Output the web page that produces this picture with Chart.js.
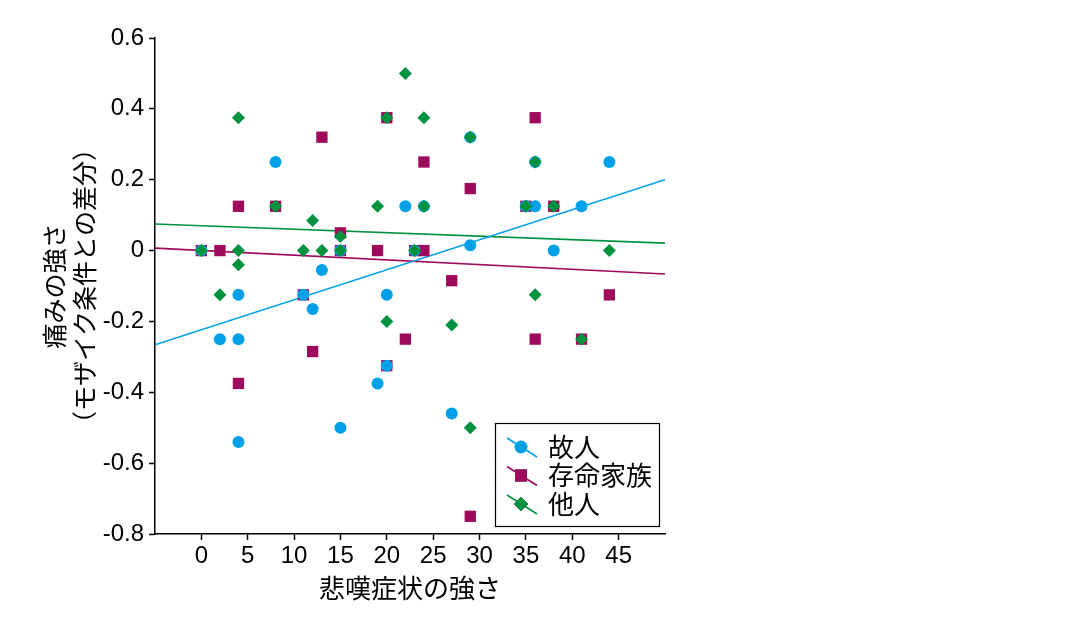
<!DOCTYPE html>
<html>
<head>
<meta charset="utf-8">
<script src="https://cdn.jsdelivr.net/npm/chart.js@4/dist/chart.umd.min.js"></script>
<style>
  html, body { margin: 0; padding: 0; background: #fff; }
  #chart { display: block; }
</style>
</head>
<body>
<canvas id="chart" width="1070" height="626"></canvas>
<script>
// 悲嘆症状の強さ (x) と 痛みの強さの差分 (y)
const groupLabels = ['故人', '存命家族', '他人'];
const xTicks = [0, 5, 10, 15, 20, 25, 30, 35, 40, 45];
const yTicks = [-0.8, -0.6, -0.4, -0.2, 0, 0.2, 0.4, 0.6];

const deceasedX = [0, 2, 4, 4, 4, 8, 11, 12, 13, 15, 15, 19, 20, 20, 22, 23, 24, 27, 29, 29, 35, 36, 36, 38, 41, 44];
const deceasedY = [0, -0.25, -0.125, -0.25, -0.54, 0.25, -0.125, -0.165, -0.055, 0, -0.5, -0.375, -0.125, -0.325, 0.125, 0, 0.125, -0.46, 0.32, 0.015, 0.125, 0.125, 0.25, 0, 0.125, 0.25];

const familyX = [0, 2, 4, 4, 8, 11, 12, 13, 15, 15, 19, 20, 20, 22, 23, 24, 24, 27, 29, 29, 35, 36, 36, 38, 41, 44];
const familyY = [0, 0, 0.125, -0.375, 0.125, -0.125, -0.285, 0.32, 0.05, 0, 0, 0.375, -0.325, -0.25, 0, 0, 0.25, -0.085, 0.175, -0.75, 0.125, 0.375, -0.25, 0.125, -0.25, -0.125];

const strangerX = [0, 2, 4, 4, 4, 8, 11, 12, 13, 15, 15, 19, 20, 20, 22, 23, 24, 24, 27, 29, 29, 35, 36, 36, 38, 41, 44];
const strangerY = [0, -0.125, 0.375, 0, -0.04, 0.125, 0, 0.085, 0, 0.04, 0, 0.125, 0.375, -0.2, 0.5, 0, 0.375, 0.125, -0.21, 0.32, -0.5, 0.125, 0.25, -0.125, 0.125, -0.25, 0];

// 回帰直線 (両端)
const fitX = [-5, 50];
const deceasedFit = [-0.266, 0.200];
const familyFit = [0.007, -0.066];
const strangerFit = [0.075, 0.021];

const colors = ['#00a0e9', '#9e0a5c', '#00923f'];
const styles = ['circle', 'rect', 'rectRot'];
const radii = [6, 8, 6.5];

const toPts = (xs, ys) => xs.map((x, i) => ({ x: x, y: ys[i] }));

const pointSets = [toPts(deceasedX, deceasedY), toPts(familyX, familyY), toPts(strangerX, strangerY)];
const fitSets = [deceasedFit, familyFit, strangerFit];
const drawOrder = [1, 2, 0];

const datasets = [];
groupLabels.forEach((label, i) => {
  datasets.push({
    label: label,
    data: pointSets[i],
    pointStyle: styles[i],
    pointRadius: radii[i],
    pointHoverRadius: radii[i],
    backgroundColor: colors[i],
    borderColor: colors[i],
    pointBorderWidth: 0,
    order: drawOrder[i]
  });
});
groupLabels.forEach((label, i) => {
  datasets.push({
    label: label + ' fit',
    data: toPts(fitX, fitSets[i]),
    showLine: true,
    pointRadius: 0,
    borderColor: colors[i],
    borderWidth: 1.6,
    order: 10 + i
  });
});

const FONT = '"Liberation Sans", Arial, "Noto Sans CJK JP", sans-serif';
const CJK = '"Noto Sans CJK JP", sans-serif';

// 凡例 (グラフ内右下)
const boxLegend = {
  id: 'boxLegend',
  afterDraw(chart) {
    const ctx = chart.ctx;
    const a = chart.chartArea;
    const x0 = a.left + 340, y0 = a.top + 385, w = 164, h = 103;
    ctx.save();
    ctx.fillStyle = '#fff';
    ctx.fillRect(x0, y0, w, h);
    ctx.strokeStyle = '#000';
    ctx.lineWidth = 1.2;
    ctx.strokeRect(x0 + 0.5, y0 + 0.5, w, h);
    groupLabels.forEach((label, i) => {
      const cx = x0 + 26, cy = y0 + 24 + i * 28.5;
      ctx.strokeStyle = colors[i];
      ctx.lineWidth = 1.6;
      ctx.beginPath();
      ctx.moveTo(cx - 14, cy - 9);
      ctx.lineTo(cx + 16, cy + 10);
      ctx.stroke();
      Chart.helpers.drawPoint(ctx, { pointStyle: styles[i], radius: radii[i] + 0.5, borderWidth: 0 }, cx, cy);
      ctx.fillStyle = colors[i];
      ctx.fill();
      ctx.fillStyle = '#000';
      ctx.font = '26px ' + CJK;
      ctx.textBaseline = 'middle';
      ctx.textAlign = 'left';
      ctx.fillText(label, x0 + 53, cy);
    });
    ctx.restore();
  }
};

new Chart(document.getElementById('chart'), {
  type: 'scatter',
  data: { datasets: datasets },
  plugins: [boxLegend],
  options: {
    responsive: false,
    animation: false,
    devicePixelRatio: 1,
    layout: { padding: { left: 0, right: 405, top: 38, bottom: 0 } },
    plugins: { legend: { display: false }, tooltip: { enabled: false } },
    scales: {
      x: {
        type: 'linear',
        min: -5,
        max: 50,
        afterBuildTicks: s => { s.ticks = xTicks.map(v => ({ value: v })); },
        afterFit: s => { s.height = 92; },
        border: { display: true, color: '#000', width: 1.5 },
        grid: { display: true, drawOnChartArea: false, drawTicks: true, tickLength: 6, tickColor: '#000', tickWidth: 1.5, color: '#000' },
        ticks: { color: '#000', font: { family: FONT, size: 24 }, padding: 2, maxRotation: 0, autoSkip: false },
        title: { display: true, text: '悲嘆症状の強さ', color: '#000', font: { family: CJK, size: 26 }, padding: { top: 0, bottom: 22 } }
      },
      y: {
        type: 'linear',
        min: -0.8,
        max: 0.6,
        afterBuildTicks: s => { s.ticks = yTicks.map(v => ({ value: v })); },
        afterFit: s => { s.width = 155; },
        border: { display: true, color: '#000', width: 1.5 },
        grid: { display: true, drawOnChartArea: false, drawTicks: true, tickLength: 6, tickColor: '#000', tickWidth: 1.5, color: '#000' },
        ticks: {
          color: '#000',
          font: { family: FONT, size: 24 },
          padding: 5,
          callback: v => Math.abs(v) < 1e-9 ? '0' : String(+v.toFixed(1))
        },
        title: {
          display: true,
          text: ['痛みの強さ', '（モザイク条件との差分）'],
          color: '#000',
          font: { family: CJK, size: 25, lineHeight: 1.2 },
          padding: { top: 39, bottom: 0 }
        }
      }
    }
  }
});
</script>
</body>
</html>
